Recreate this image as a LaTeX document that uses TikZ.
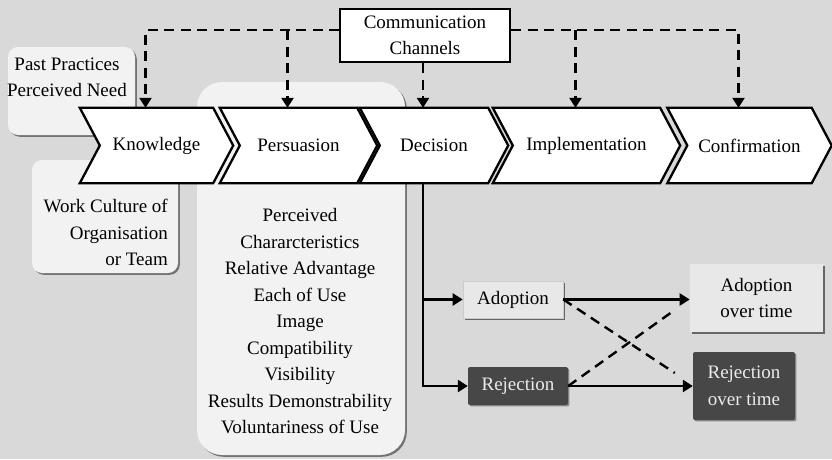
\documentclass[tikz,border=0pt]{standalone}
\usepackage{fontspec}
\setmainfont{Liberation Serif}
\usetikzlibrary{arrows.meta,shadows,backgrounds}

\newcommand{\diagfont}{\fontsize{19}{26.5}\selectfont}

\tikzset{
  stage/.style={minimum width=#1,minimum height=75pt,inner sep=0pt},
  chev/.style={draw=black,fill=white,line width=2.3pt,line join=miter},
  softbox/.style={fill=black!5,rounded corners=#1,
    drop shadow={shadow xshift=1.8pt,shadow yshift=-1.8pt,fill=black!55,opacity=1}},
  softbox/.default=10pt,
  lightbox/.style={fill=black!9,draw=black!20,line width=0.6pt,inner sep=0pt,
    drop shadow={shadow xshift=1.8pt,shadow yshift=-1.8pt,fill=black!60,opacity=1}},
  darkbox/.style={fill=black!72,text=black!8,rounded corners=2pt,inner sep=0pt,
    drop shadow={shadow xshift=1.4pt,shadow yshift=-1.4pt,fill=black!45,opacity=1}},
  comm/.style={line width=2.4pt,dash pattern=on 10pt off 6.5pt,-{Triangle[width=12pt,length=10pt]}},
  flow/.style={line width=2.4pt,-{Triangle[width=12pt,length=10pt]}},
  cross/.style={line width=2.4pt,dash pattern=on 10pt off 6.5pt},
}

\begin{document}
\begin{tikzpicture}[x=1pt,y=-1pt,every node/.style={font=\diagfont}]
\useasboundingbox (0,0) rectangle (832,459);

\node[stage=153pt] (know) at (156.5,145.5) {Knowledge};
\node[stage=157pt] (pers) at (298.5,145.5) {Persuasion};
\node[stage=148pt] (deci) at (434,145.5) {Decision};
\node[stage=187pt] (impl) at (586.5,145.5) {Implementation};
\node[stage=164pt] (conf) at (749.5,145.5) {Confirmation};
\foreach \n in {know,pers,deci,impl,conf}
  \coordinate (\n-in) at ([xshift=-11pt]\n.north);

\begin{scope}[on background layer]
\fill[black!15] (0,0) rectangle (832,459);
\node[softbox,minimum width=127pt,minimum height=88pt] (ppbox) at (71.5,91) {};
\node[softbox,minimum width=146pt,minimum height=113pt] (wcbox) at (105,216.5) {};
\node[softbox=25pt,minimum width=208pt,minimum height=373pt] (pcbox) at (301,268.5) {};
\foreach \n in {know,pers,deci,impl,conf}
  \draw[chev] (\n.north west) -- ([xshift=-20pt]\n.north east) -- (\n.east)
    -- ([xshift=-20pt]\n.south east) -- (\n.south west) -- ([xshift=20pt]\n.west) -- cycle;
\end{scope}

\node[align=center] (pptext) at (67,77.5) {Past Practices\\Perceived Need};
\node[align=right,anchor=east,inner sep=0pt] (wctext) at (168,232.5) {Work Culture of\\Organisation\\or Team};
\node[align=center] (pctext) at (300,321.5) {Perceived\\Chararcteristics\\Relative Advantage\\Each of Use\\Image\\Compatibility\\Visibility\\Results Demonstrability\\Voluntariness of Use};

\node[draw,fill=white,line width=2pt,minimum width=170pt,minimum height=53pt,align=center,inner sep=0pt] (cc) at (425,35.5) {Communication\\Channels};
\coordinate (busl) at ([yshift=5.5pt]cc.west);
\coordinate (busr) at ([yshift=5.5pt]cc.east);
\draw[comm] (busl) -| (know-in);
\draw[comm] (pers-in |- busl) -- (pers-in);
\draw[comm] (deci-in |- cc.south) -- (deci-in);
\draw[comm] (impl-in |- busr) -- (impl-in);
\draw[comm] (busr) -| (conf-in);

\node[lightbox,minimum width=100pt,minimum height=37pt] (adopt) at (513,299.5) {Adoption};
\node[darkbox,minimum width=100pt,minimum height=38pt] (reject) at (518,386) {Rejection};
\node[lightbox,draw=none,minimum width=133pt,minimum height=68pt,align=center] (aot) at (756.5,298) {Adoption\\over time};
\node[darkbox,minimum width=102pt,minimum height=68pt,align=center] (rot) at (744,386) {Rejection\\over time};

\coordinate (dbot) at (deci-in |- deci.south);
\draw[flow] (dbot) |- (adopt.west);
\draw[flow] (dbot) |- (reject.west);
\draw[flow] (adopt.east) -- (aot.west |- adopt.east);
\draw[flow] (reject.east) -- (rot.west |- reject.east);
\draw[cross] (adopt.east) -- ([xshift=-18pt,yshift=13pt]rot.west);
\draw[cross] (reject.east) -- ([xshift=-15pt,yshift=-12pt]aot.west);
\end{tikzpicture}
\end{document}
